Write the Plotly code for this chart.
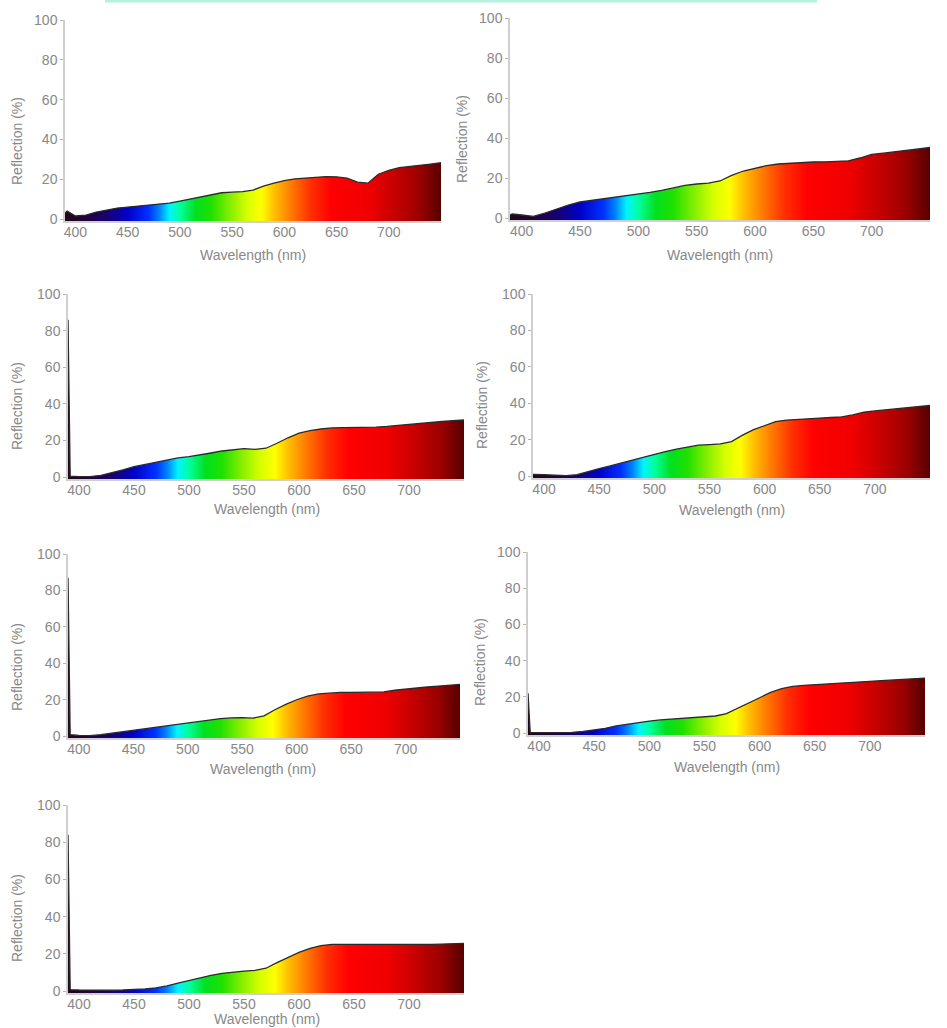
import plotly.graph_objects as go

# ---------------- data ----------------
WL = [390, 392, 400, 410, 420, 430, 440, 450, 460, 470, 480, 490, 500, 510, 520, 530,
      540, 550, 560, 570, 580, 590, 600, 610, 620, 630, 640, 650, 660, 670, 680, 690,
      700, 710, 720, 730, 740, 750]

R1 = [3, 4, 1.5, 2, 3.5, 4.5, 5.5, 6, 6.5, 7, 7.3, 8, 9, 10, 11, 12.3,
      13.2, 13.5, 13.8, 14.5, 16.5, 18, 19.3, 20.2, 20.6, 21, 21.3, 21.2, 20.5, 18.5, 18, 22.5,
      24.5, 25.8, 26.3, 27, 27.6, 28.3]
R2 = [1.5, 2, 1.5, 0.8, 2.5, 4.5, 6.5, 8, 8.8, 9.5, 10.3, 11, 12, 12.8, 13.8, 15,
      16.3, 17, 17.4, 18.5, 21.3, 23.5, 25, 26.2, 27, 27.4, 27.7, 28, 28.1, 28.2, 28.6, 30,
      31.8, 32.4, 33, 33.8, 34.5, 35.3]
R3 = [86, 0.5, 0.3, 0.3, 1, 2.3, 4, 5.7, 7, 8.2, 9.5, 10.5, 11.2, 12, 13.2, 14.3,
      15, 15.6, 15.2, 15.8, 18.5, 21.5, 24, 25.4, 26.3, 26.9, 27, 27, 27, 27.3, 27.7, 28.3,
      28.8, 29.4, 30, 30.4, 30.8, 31.2]
R4 = [1, 1, 0.8, 0.5, 0.3, 0.8, 2.6, 4.2, 5.6, 7.2, 8.7, 10.5, 12.1, 13.5, 14.8, 16,
      17, 17.3, 17.7, 19, 22.5, 25.5, 27.8, 30, 30.8, 31.3, 31.6, 31.9, 32.2, 32.6, 33.6, 35.1,
      35.8, 36.4, 37, 37.6, 38.2, 38.8]
R5 = [87, 0.8, 0.4, 0.3, 0.8, 1.6, 2.5, 3.3, 4, 4.8, 5.6, 6.4, 7.3, 8.2, 8.9, 9.6,
      10, 10.2, 9.9, 11.2, 14.5, 17.5, 20, 22, 23.2, 23.8, 24, 24, 24, 24, 24.3, 25.2,
      25.9, 26.5, 27, 27.5, 28, 28.4]
R6 = [22, 0.5, 0.3, 0.3, 0.3, 0.5, 1, 1.8, 2.7, 4, 5, 6, 6.7, 7.3, 7.8, 8.3,
      8.7, 9, 9.5, 10.8, 13.8, 16.5, 19.5, 22.5, 24.6, 25.8, 26.4, 26.7, 27, 27.3, 27.7, 28.2,
      28.6, 29, 29.3, 29.7, 30, 30.4]
R7 = [84, 0.8, 0.6, 0.5, 0.5, 0.5, 0.6, 0.8, 1.2, 1.8, 2.8, 4.3, 5.8, 7.3, 8.5, 9.6,
      10.3, 10.8, 11.2, 12.3, 15.3, 18.2, 20.8, 23, 24.5, 25.1, 25.1, 25, 24.8, 24.8, 24.8, 24.8,
      24.9, 25, 25.1, 25.3, 25.5, 25.7]

SERIES = [R1, R2, R3, R4, R5, R6, R7]

X_TICKS = [400, 450, 500, 550, 600, 650, 700]
Y_TICKS = [0, 20, 40, 60, 80, 100]
X_TITLE = "Wavelength (nm)"
Y_TITLE = "Reflection (%)"

# spectrum colours by wavelength (nm)
SPEC_WL = [390, 410, 430, 450, 470, 480, 490, 500, 515, 530, 550, 565, 578, 590, 605,
           625, 645, 680, 705, 730, 750]
SPEC_COL = ["#200818", "#24003c", "#180070", "#0000c8", "#0030ff", "#0080ff", "#00f4ff",
            "#00ffa0", "#00e020", "#20e000", "#90f000", "#d8ff00", "#ffff00", "#ffc000",
            "#ff8000", "#ff3000", "#ff0000", "#f00000", "#c80000", "#9a0000", "#560000"]

# ---------------- layout geometry (pixels) ----------------
W, H = 947, 1028
X_MIN, X_MAX = 390, 750
Y_MIN, Y_MAX = -1, 100
# (left, right, top, bottom)
BOXES = [(65, 441, 20, 221), (510, 930, 18, 220),
         (68, 464, 294, 479), (533, 930, 294, 478),
         (68, 460, 554, 738), (528, 925, 552, 735),
         (68, 464, 805, 993)]
XT_POS = [(253, 255), (720, 255), (267, 509), (732, 510), (263, 769), (727, 767), (267, 1019)]
YT_POS = [(17, 141), (462, 139), (17, 406), (482, 405), (17, 667), (480, 662), (17, 918)]

GRAY = "#888888"
FONT = "Liberation Sans, Arial, sans-serif"
FS = 14

cscale = [[(w - X_MIN) / (X_MAX - X_MIN), c] for w, c in zip(SPEC_WL, SPEC_COL)]

fig = go.Figure()
layout = dict(template="none", width=W, height=H, autosize=False,
              margin=dict(l=0, r=0, t=0, b=0, pad=0),
              paper_bgcolor="white", plot_bgcolor="white", showlegend=False,
              font=dict(family=FONT, color=GRAY, size=FS))
annotations = []

for i, (vals, box) in enumerate(zip(SERIES, BOXES)):
    n = i + 1
    xa = "x" if n == 1 else f"x{n}"
    ya = "y" if n == 1 else f"y{n}"
    fig.add_trace(go.Scatter(x=WL, y=[Y_MIN] * len(WL), mode="lines",
                             line=dict(width=0), hoverinfo="skip",
                             xaxis=xa, yaxis=ya))
    fig.add_trace(go.Scatter(x=WL, y=vals, mode="lines", fill="tonexty",
                             line=dict(color="#2a2a2a", width=1.3),
                             fillgradient=dict(type="horizontal", colorscale=cscale,
                                               start=X_MIN, stop=X_MAX),
                             xaxis=xa, yaxis=ya))
    l, r, t, b = box
    layout["xaxis" if n == 1 else f"xaxis{n}"] = dict(
        domain=[l / W, r / W], anchor=ya, range=[X_MIN, X_MAX], automargin=False,
        tickvals=X_TICKS, showgrid=False, zeroline=False,
        showline=True, linecolor="#cfcfcf", linewidth=1.5, ticks="",
        ticklabelstandoff=-3,
        tickfont=dict(size=FS, color=GRAY, family=FONT))
    layout["yaxis" if n == 1 else f"yaxis{n}"] = dict(
        domain=[1 - b / H, 1 - t / H], anchor=xa, range=[Y_MIN, Y_MAX], automargin=False,
        tickvals=Y_TICKS, showgrid=False, zeroline=False,
        showline=True, linecolor="#cfcfcf", linewidth=1.5,
        ticks="outside", ticklen=3, tickcolor="#b5b5b5",
        tickfont=dict(size=FS, color=GRAY, family=FONT))
    xx, yy = XT_POS[i]
    annotations.append(dict(text=X_TITLE, x=xx / W, y=1 - yy / H, xref="paper", yref="paper",
                            showarrow=False, xanchor="center", yanchor="middle",
                            font=dict(size=FS, color=GRAY, family=FONT)))
    xx, yy = YT_POS[i]
    annotations.append(dict(text=Y_TITLE, x=xx / W, y=1 - yy / H, xref="paper", yref="paper",
                            showarrow=False, xanchor="center", yanchor="middle", textangle=-90,
                            font=dict(size=FS, color=GRAY, family=FONT)))

layout["annotations"] = annotations
layout["shapes"] = [dict(type="line", xref="paper", yref="paper",
                         x0=105 / W, x1=817 / W, y0=1 - 1 / H, y1=1 - 1 / H,
                         line=dict(color="#b2f2de", width=3))]
fig.update_layout(**layout)

PIN = ("document.body.style.margin='0';document.body.style.padding='0';"
       "var d=document.getElementById('{plot_id}');"
       "d.style.position='fixed';d.style.top='0px';d.style.left='0px';")
fig.write_html("out.html", post_script=PIN, config={"displayModeBar": False})
